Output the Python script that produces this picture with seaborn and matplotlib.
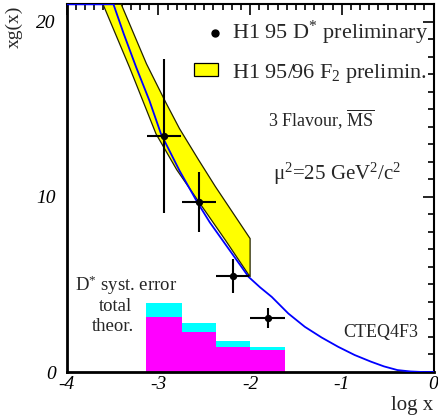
import numpy as np
import pandas as pd
import seaborn as sns
import matplotlib
matplotlib.use("Agg")
import matplotlib.pyplot as plt
from matplotlib.lines import Line2D
from matplotlib.patches import Rectangle
from matplotlib.ticker import MultipleLocator

# D* measurement points (log x, xg(x)) with errors
dstar_logx = [-2.94, -2.56, -2.19, -1.81]
dstar_xg = [13.46, 9.69, 5.49, 3.10]
dstar_yerr = [4.40, 1.72, 0.95, 0.57]
dstar_xlo = [-3.12, -2.74, -2.37, -2.00]
dstar_xhi = [-2.75, -2.37, -2.01, -1.62]

# systematic error histograms (bin edges in log x)
syst_edges = [-3.13, -2.74, -2.37, -2.00, -1.62]
syst_total = [3.95, 2.81, 1.78, 1.44]
syst_theor = [3.15, 2.28, 1.41, 1.25]

# F2 band edges
band_up_x = [-3.405, -3.13, -2.92, -2.77, -2.56, -2.38, -2.00]
band_up_y = [21.0, 17.6, 15.4, 13.9, 12.1, 10.6, 7.62]
band_lo_x = [-3.604, -3.315, -3.026, -2.80, -2.557, -2.268, -2.00]
band_lo_y = [21.0, 17.4, 13.6, 11.55, 9.70, 7.52, 5.43]

# CTEQ4F3 gluon curve
cteq_logx = [-4.0, -3.49, -3.377, -3.242, -3.098, -2.972, -2.77, -2.576, -2.44,
             -2.30, -2.016, -1.89, -1.764, -1.583, -1.403, -1.22, -1.04, -0.86,
             -0.682, -0.54, -0.393, -0.25, -0.12, 0.0]
cteq_xg = [21.0, 21.0, 19.30, 17.40, 15.50, 13.60, 11.50, 9.70, 8.55,
           7.52, 5.43, 4.83, 4.29, 3.34, 2.58, 1.97, 1.44, 0.97,
           0.59, 0.32, 0.11, 0.03, 0.0, 0.0]

legend_labels = [r"H1 95 D$^{*}$ preliminary", r"H1 95/96 F$_{2}$ prelimin."]

sns.set_theme(style="white")
plt.rcParams.update({
    "font.family": ["Liberation Serif", "DejaVu Serif"],
    "mathtext.fontset": "custom",
    "mathtext.rm": "Liberation Serif",
    "mathtext.it": "Liberation Serif:italic",
    "axes.unicode_minus": False,
})

fig = plt.figure(figsize=(4.38, 4.19), dpi=100)
ax = fig.add_axes([66.7 / 438, 47 / 419, (433.5 - 66.7) / 438, (414.7 - 47) / 419])

# systematic error bars: total (cyan) behind theoretical (magenta)
centers = [(a + b) / 2 for a, b in zip(syst_edges[:-1], syst_edges[1:])]
hist_df = pd.DataFrame({"logx": centers, "total": syst_total, "theor": syst_theor})
sns.histplot(data=hist_df, x="logx", weights="total", bins=syst_edges, ax=ax,
             color="#00ffff", alpha=1, linewidth=0, element="bars")
sns.histplot(data=hist_df, x="logx", weights="theor", bins=syst_edges, ax=ax,
             color="#ff00ff", alpha=1, linewidth=0, element="bars")

# F2 band
poly_x = band_up_x + band_lo_x[::-1]
poly_y = band_up_y + band_lo_y[::-1]
ax.fill(poly_x, poly_y, facecolor="#ffff00", edgecolor="#222200", linewidth=0.9, zorder=3)

# CTEQ4F3 curve
curve_df = pd.DataFrame({"logx": cteq_logx, "xg": cteq_xg})
sns.lineplot(data=curve_df, x="logx", y="xg", ax=ax, color="#0000ff", linewidth=1.3,
             zorder=4, sort=False)

# D* points
xerr = [np.subtract(dstar_logx, dstar_xlo), np.subtract(dstar_xhi, dstar_logx)]
ax.errorbar(dstar_logx, dstar_xg, yerr=dstar_yerr, xerr=xerr, fmt="none",
            ecolor="black", elinewidth=1.5, capsize=0, zorder=5)
sns.scatterplot(x=dstar_logx, y=dstar_xg, ax=ax, color="black", s=28,
                linewidth=0, zorder=6)

ax.set_xlim(-4, 0)
ax.set_ylim(0, 21)
ax.set_xlabel("")
ax.set_ylabel("")
ax.xaxis.set_major_locator(MultipleLocator(1))
ax.xaxis.set_minor_locator(MultipleLocator(0.1))
ax.yaxis.set_major_locator(MultipleLocator(10))
ax.yaxis.set_minor_locator(MultipleLocator(1))
ax.tick_params(which="both", direction="in", top=True, right=True, colors="black",
               width=1.2)
ax.tick_params(which="major", length=8)
ax.tick_params(which="minor", length=4.5)
ax.tick_params(axis="y", which="major", pad=8)
ax.tick_params(axis="x", which="major", pad=3)
ax.set_xticks([-4, -3, -2, -1, 0])
ax.set_xticklabels(["-4", "-3", "-2", "-1", "0"], fontstyle="italic", fontsize=14)
ax.set_yticks([0, 10, 20])
ax.set_yticklabels(["0", "10", "20"], fontstyle="italic", fontsize=14)
for sp in ax.spines.values():
    sp.set_color("black")
    sp.set_linewidth(1.5)
ax.spines["left"].set_linewidth(2)
ax.spines["bottom"].set_linewidth(2)

# legend keys and labels (axes-fraction placement)
ta = ax.transAxes
ax.add_line(Line2D([0.404], [0.922], marker="o", color="black", ms=5,
                   ls="none", transform=ta))
ax.add_patch(Rectangle((0.347, 0.806), 0.0654, 0.033, facecolor="#ffff00",
                       edgecolor="black", linewidth=0.9, transform=ta))
ax.text(0.451, 0.906, legend_labels[0], transform=ta, fontsize=16,
        ha="left", va="baseline")
ax.text(0.451, 0.800, legend_labels[1], transform=ta, fontsize=16,
        ha="left", va="baseline")

ax.text(-1.8, 14.0, r"3 Flavour, $\overline{\mathrm{MS}}$", fontsize=13,
        ha="left", va="baseline")
ax.text(-1.75, 11.0, "μ$^{2}$=25 GeV$^{2}$/c$^{2}$", fontsize=15,
        ha="left", va="baseline")
ax.text(-0.98, 2.0, "CTEQ4F3", fontsize=13, ha="left", va="baseline")
ax.text(-3.35, 4.6, r"D$^{*}$ syst. error", fontsize=13.5, ha="center", va="baseline")
ax.text(-3.47, 3.5, "total", fontsize=13.5, ha="center", va="baseline")
ax.text(-3.50, 2.35, "theor.", fontsize=13.5, ha="center", va="baseline")

fig.text(14 / 438, 1 - 27 / 419, "xg(x)", rotation=90, fontsize=14,
         ha="center", va="center")
fig.text(412 / 438, 1 - 405 / 419, "log x", fontsize=15, ha="center", va="center")

fig.savefig("out.png", dpi=100)
